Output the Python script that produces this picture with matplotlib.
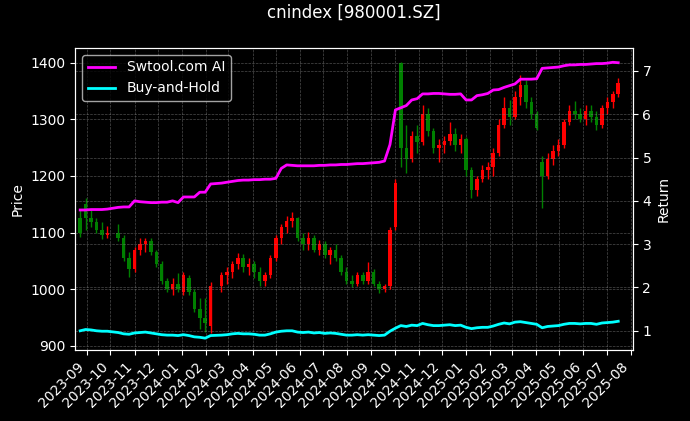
import pandas as pd
import matplotlib
matplotlib.use("Agg")
import matplotlib.pyplot as plt
import matplotlib.dates as mdates

# ============================================================
# DADOS (semanal)
# ============================================================
weeks = pd.date_range("2023-08-23", periods=100, freq="7D")
weeks = weeks.drop(pd.to_datetime(["2023-10-04", "2024-02-14"]))  # feriados

opens = [
    1125, 1150, 1125, 1118, 1105, 1095, 1100, 1090, 1055, 1035,
    1070, 1080, 1085, 1065, 1045, 1015, 1000, 1010, 995, 1020,
    995, 965, 950, 935, 1005, 1025, 1030, 1045, 1055, 1040,
    1045, 1030, 1015, 1025, 1055, 1090, 1110, 1120, 1125, 1090,
    1080, 1090, 1070, 1080, 1060, 1070, 1055, 1030, 1015, 1010,
    1025, 1015, 1030, 1010, 1000, 1005, 1110, 1400, 1250, 1230,
    1270, 1260, 1310, 1280, 1250, 1255, 1262, 1275, 1255, 1265,
    1210, 1175, 1195, 1210, 1215, 1240, 1290, 1320, 1305, 1340,
    1360, 1330, 1310, 1225, 1200, 1230, 1245, 1255, 1295, 1315,
    1310, 1300, 1315, 1305, 1290, 1320, 1330, 1345,
]
highs = [
    1140, 1162, 1140, 1125, 1118, 1112, 1115, 1095, 1065, 1075,
    1091, 1090, 1090, 1070, 1050, 1020, 1020, 1029, 1031, 1025,
    1000, 985, 985, 1012, 1030, 1040, 1050, 1064, 1062, 1055,
    1050, 1040, 1030, 1060, 1095, 1115, 1130, 1137, 1128, 1100,
    1101, 1095, 1087, 1085, 1075, 1080, 1060, 1040, 1025, 1030,
    1030, 1048, 1035, 1015, 1010, 1110, 1195, 1402, 1290, 1280,
    1290, 1326, 1320, 1285, 1265, 1270, 1295, 1285, 1275, 1268,
    1215, 1200, 1220, 1225, 1250, 1300, 1340, 1335, 1350, 1379,
    1370, 1340, 1315, 1235, 1240, 1255, 1265, 1300, 1325, 1333,
    1320, 1326, 1325, 1315, 1325, 1340, 1350, 1373,
]
lows = [
    1092, 1105, 1110, 1100, 1088, 1090, 1085, 1050, 1022, 1030,
    1060, 1065, 1060, 1040, 1010, 995, 990, 995, 990, 990,
    960, 930, 925, 922, 995, 1010, 1020, 1035, 1030, 1025,
    1020, 1005, 1006, 1020, 1050, 1080, 1100, 1110, 1085, 1070,
    1070, 1066, 1060, 1055, 1045, 1050, 1025, 1010, 1004, 1005,
    1010, 1010, 1005, 994, 995, 1000, 1105, 1215, 1205, 1225,
    1240, 1255, 1270, 1240, 1225, 1240, 1255, 1245, 1240, 1200,
    1161, 1165, 1190, 1195, 1200, 1235, 1285, 1290, 1300, 1325,
    1320, 1300, 1282, 1144, 1195, 1220, 1235, 1250, 1290, 1300,
    1295, 1290, 1295, 1282, 1285, 1310, 1320, 1340,
]
closes = [
    1100, 1125, 1118, 1105, 1095, 1100, 1090, 1055, 1035, 1070,
    1080, 1085, 1065, 1045, 1015, 1000, 1010, 1000, 1025, 995,
    965, 950, 940, 1005, 1025, 1030, 1045, 1055, 1040, 1045,
    1030, 1015, 1025, 1055, 1090, 1110, 1120, 1125, 1090, 1080,
    1090, 1070, 1080, 1060, 1070, 1055, 1030, 1015, 1010, 1025,
    1015, 1030, 1010, 1000, 1005, 1105, 1188, 1250, 1230, 1270,
    1260, 1310, 1280, 1250, 1255, 1262, 1275, 1255, 1265, 1210,
    1175, 1195, 1210, 1215, 1240, 1290, 1320, 1305, 1340, 1360,
    1330, 1310, 1285, 1200, 1230, 1245, 1255, 1295, 1315, 1310,
    1300, 1315, 1305, 1290, 1320, 1330, 1345, 1365,
]
ai_return = [
    3.79, 3.79, 3.80, 3.80, 3.80, 3.81, 3.85, 3.86, 3.86, 4.00,
    3.98, 3.97, 3.96, 3.96, 3.97, 3.97, 4.00, 3.96, 4.09, 4.09,
    4.09, 4.20, 4.20, 4.39, 4.41, 4.43, 4.45, 4.47, 4.48, 4.48,
    4.49, 4.49, 4.50, 4.50, 4.52, 4.75, 4.83, 4.82, 4.81, 4.81,
    4.81, 4.81, 4.82, 4.82, 4.83, 4.83, 4.84, 4.84, 4.85, 4.86,
    4.86, 4.87, 4.88, 4.89, 4.92, 5.30, 6.10, 6.15, 6.20, 6.33,
    6.36, 6.47, 6.47, 6.48, 6.48, 6.47, 6.46, 6.46, 6.47, 6.33,
    6.33, 6.43, 6.45, 6.48, 6.56, 6.57, 6.62, 6.66, 6.70, 6.81,
    6.81, 6.81, 6.82, 7.06, 7.07, 7.08, 7.09, 7.12, 7.14, 7.14,
    7.15, 7.15, 7.16, 7.17, 7.17, 7.18, 7.20, 7.19,
]
bh_return = [
    1.00, 1.03, 1.02, 1.00, 0.99, 0.99, 0.96, 0.93, 0.92, 0.95,
    0.96, 0.97, 0.95, 0.93, 0.91, 0.90, 0.90, 0.89, 0.91, 0.89,
    0.86, 0.85, 0.83, 0.89, 0.90, 0.91, 0.93, 0.94, 0.93, 0.93,
    0.92, 0.90, 0.90, 0.93, 0.97, 0.99, 1.00, 1.00, 0.97, 0.96,
    0.97, 0.95, 0.96, 0.94, 0.95, 0.94, 0.92, 0.90, 0.90, 0.91,
    0.90, 0.91, 0.90, 0.89, 0.90, 0.99, 1.06, 1.12, 1.10, 1.13,
    1.12, 1.17, 1.14, 1.12, 1.12, 1.13, 1.14, 1.12, 1.13, 1.08,
    1.05, 1.07, 1.08, 1.08, 1.11, 1.15, 1.18, 1.16, 1.20, 1.21,
    1.19, 1.17, 1.15, 1.07, 1.10, 1.11, 1.12, 1.15, 1.17, 1.17,
    1.16, 1.17, 1.17, 1.15, 1.18, 1.19, 1.20, 1.22,
]

df = pd.DataFrame({"open": opens, "high": highs, "low": lows, "close": closes,
                   "ai": ai_return, "bh": bh_return}, index=weeks)

# ============================================================
# GRÁFICO
# ============================================================
plt.style.use("dark_background")
fig, ax = plt.subplots(figsize=(6.9, 4.21), dpi=100)
fig.subplots_adjust(left=0.109, right=0.917, bottom=0.169, top=0.886)

# candles: vermelho = alta, verde = baixa
up = df["close"] >= df["open"]
colors = ["red" if u else "green" for u in up]
ax.vlines(df.index, df["low"], df["high"], colors=colors, linewidth=1.0)
ax.bar(df.index, (df["close"] - df["open"]).abs().clip(lower=1),
       bottom=df[["open", "close"]].min(axis=1), width=4.5, color=colors)

ax.set_ylabel("Price")
ax.set_ylim(893, 1426)
ax.set_yticks([900, 1000, 1100, 1200, 1300, 1400])
ax.set_xlim(pd.Timestamp("2023-08-16 14:00"), pd.Timestamp("2025-08-03 16:00"))
ax.xaxis.set_major_locator(mdates.MonthLocator())
ax.xaxis.set_major_formatter(mdates.DateFormatter("%Y-%m"))
plt.setp(ax.get_xticklabels(), rotation=45, ha="right")
ax.grid(True, linestyle="--", linewidth=0.5, color="gray", alpha=0.6)

ax2 = ax.twinx()
ax2.plot(df.index, df["ai"], color="#ff00ff", linewidth=2, label="Swtool.com AI")
ax2.plot(df.index, df["bh"], color="#00ffff", linewidth=2, label="Buy-and-Hold")
ax2.set_ylabel("Return")
ax2.set_ylim(0.56, 7.53)
ax2.set_yticks([1, 2, 3, 4, 5, 6, 7])
ax2.grid(True, linestyle="--", linewidth=0.5, color="gray", alpha=0.6)
ax2.legend(loc="upper left")

ax.set_title("cnindex [980001.SZ]", pad=22)

fig.savefig("out.png", dpi=100)
